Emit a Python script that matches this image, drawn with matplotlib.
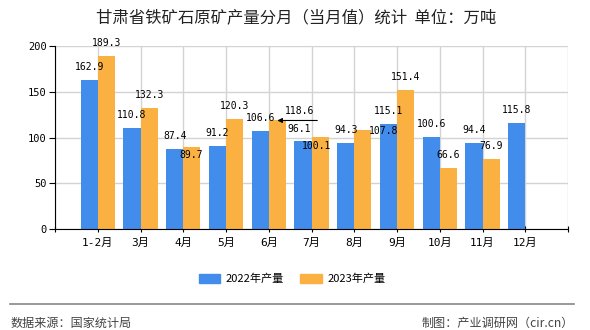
import numpy as np
import matplotlib.pyplot as plt
from matplotlib.patches import Patch
from matplotlib.lines import Line2D

plt.rcParams['font.family'] = ['Noto Sans CJK SC', 'DejaVu Sans']

months = ['1-2月', '3月', '4月', '5月', '6月', '7月', '8月', '9月', '10月', '11月', '12月']
prod_2022 = [162.9, 110.8, 87.4, 91.2, 106.6, 96.1, 94.3, 115.1, 100.6, 94.4, 115.8]
prod_2023 = [189.3, 132.3, 89.7, 120.3, 118.6, 100.1, 107.8, 151.4, 66.6, 76.9, np.nan]
y_ticks = [0, 50, 100, 150, 200]

blue = '#428CEC'
orange = '#FBB142'
mono = ['DejaVu Sans Mono', 'Noto Sans CJK SC']

fig = plt.figure(figsize=(5.9, 3.3), dpi=100)
ax = fig.add_axes([55 / 590, 1 - 229 / 330, 513 / 590, 183 / 330])

x = np.arange(1, len(months) + 1)
w = 0.4
ax.bar(x - w / 2, prod_2022, w, color=blue, zorder=2)
ax.bar(x + w / 2, prod_2023, w, color=orange, zorder=2)

ax.set_xlim(0, len(months) + 1)
ax.set_ylim(0, 200)
ax.set_yticks(y_ticks)
ax.set_xticks(np.arange(0, len(months) + 2))
ax.set_xticklabels([''] + months + [''])
for lab in ax.get_xticklabels():
    lab.set_family(mono)
    lab.set_fontsize(8)
for lab in ax.get_yticklabels():
    lab.set_family(mono)
    lab.set_fontsize(7.5)
ax.tick_params(axis='x', direction='inout', length=5, pad=4)
ax.tick_params(axis='y', length=4, pad=2)
ax.grid(True, color='#D3D3D3', lw=1, zorder=0)
ax.spines['top'].set_visible(False)
ax.spines['right'].set_visible(False)
ax.spines['left'].set_color('black')
ax.spines['bottom'].set_color('black')

# label offsets in pixels (dx, dy) where the original moved labels to avoid overlap
off_2022 = {5: (-4, 12)}
off_2023 = {2: (-1, -8), 4: (22, 9), 5: (-4, -9), 6: (21, -1)}

for i, v in enumerate(prod_2022):
    dx, dy = off_2022.get(i, (0, 13))
    ax.annotate(f'{v:.1f}', (x[i] - w / 2, v), xytext=(dx, dy), textcoords='offset pixels',
                ha='center', va='center', fontsize=7, family=mono, zorder=4)
for i, v in enumerate(prod_2023):
    if np.isnan(v):
        continue
    dx, dy = off_2023.get(i, (0, 13))
    ax.annotate(f'{v:.1f}', (x[i] + w / 2, v), xytext=(dx, dy), textcoords='offset pixels',
                ha='center', va='center', fontsize=7, family=mono, zorder=4)

# leader line for the moved 6月 label
ax.annotate('', (x[4] + w / 2, prod_2023[4]), xytext=(40, 0), textcoords='offset pixels',
            arrowprops=dict(arrowstyle='-|>', color='black', lw=0.8, mutation_scale=7,
                            shrinkA=0, shrinkB=0), zorder=4)

fig.text(296 / 590, 1 - 18 / 330, '甘肃省铁矿石原矿产量分月（当月值）统计  单位：万吨',
         ha='center', va='center', fontsize=11.8, color='#222222')

handles = [Patch(color=blue), Patch(color=orange)]
fig.legend(handles, ['2022年产量', '2023年产量'], loc='center', bbox_to_anchor=(292 / 590, 1 - 279 / 330),
           ncol=2, frameon=False, fontsize=8, handlelength=1.9, handleheight=0.8,
           handletextpad=0.5, columnspacing=1.5)

fig.add_artist(Line2D([10 / 590, 574 / 590], [1 - 303.5 / 330] * 2, color='#888888', lw=1.2))
fig.text(11 / 590, 1 - 323 / 330, '数据来源：国家统计局', ha='left', va='center', fontsize=8.7, color='#444444')
fig.text(574 / 590, 1 - 323 / 330, '制图：产业调研网（cir.cn）', ha='right', va='center', fontsize=8.7, color='#444444')

fig.savefig('out.png', dpi=100)
